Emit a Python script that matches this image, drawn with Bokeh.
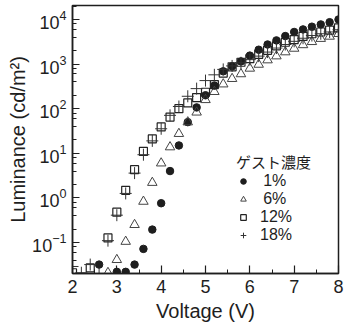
from bokeh.plotting import figure
from bokeh.models import SingleIntervalTicker, LogTicker, Legend
from bokeh.embed import file_html
from bokeh.resources import INLINE

# ---- data ----
v_1 = [2.6, 3.0, 3.2, 3.4, 3.6, 3.8, 4.0, 4.2, 4.4, 4.6, 4.8, 5.0, 5.2, 5.4,
       5.6, 5.8, 6.0, 6.2, 6.4, 6.6, 6.8, 7.0, 7.2, 7.4, 7.6, 7.8, 8.0]
lum_1 = [0.032, 0.022, 0.022, 0.032, 0.072, 0.195, 0.76, 4.0, 15, 50, 107, 200,
         330, 690, 890, 1150, 1550, 2100, 2750, 3400, 4250, 5250, 6000, 6900,
         7750, 8700, 10000]

v_6 = [2.8, 3.0, 3.2, 3.4, 3.6, 3.8, 4.0, 4.2, 4.4, 4.6, 4.8, 5.0, 5.2, 5.4,
       5.6, 5.8, 6.0, 6.2, 6.4, 6.6, 6.8, 7.0, 7.2, 7.4, 7.6, 7.8, 8.0]
lum_6 = [0.021, 0.041, 0.105, 0.25, 0.83, 2.2, 6.0, 13.8, 27.5, 50, 83, 158,
         240, 355, 470, 600, 800, 980, 1230, 1510, 1860, 2240, 2690, 3160,
         3720, 4170, 4790]

v_12 = [2.0, 2.4, 2.8, 3.0, 3.2, 3.4, 3.6, 3.8, 4.0, 4.2, 4.4, 4.6, 4.8, 5.0,
        5.2, 5.4, 5.6, 5.8, 6.0, 6.2, 6.4, 6.6, 6.8, 7.0, 7.2, 7.4, 7.6, 7.8, 8.0]
lum_12 = [0.021, 0.027, 0.127, 0.48, 1.48, 4.3, 11, 21, 39, 65, 100, 135, 178,
          234, 347, 630, 870, 1100, 1320, 1660, 2040, 2570, 3090, 3550, 4170,
          4790, 5250, 5750, 6460]

v_18 = [2.0, 2.2, 2.4, 2.6, 2.8, 3.0, 3.2, 3.4, 3.6, 3.8, 4.0, 4.2, 4.4, 4.6,
        4.8, 5.0, 5.2, 5.4, 5.6, 5.8, 6.0, 6.2, 6.4, 6.6, 6.8, 7.0, 7.2, 7.4,
        7.6, 7.8, 8.0]
lum_18 = [0.029, 0.021, 0.032, 0.020, 0.11, 0.41, 1.26, 3.6, 9.3, 19, 35.5, 71,
          112, 190, 282, 427, 575, 760, 910, 1070, 1260, 1510, 1860, 2290, 2750,
          3240, 3800, 4370, 4790, 5250, 5890]

series_labels = ["\u20091%", "\u20096%", "12%", "18%"]
legend_title = "ゲスト濃度"
x_label = "Voltage (V)"
y_label = "Luminance (cd/m²)"

FONT = "Liberation Sans"
INK = "#1e1e1e"

p = figure(width=350, height=327, output_backend="svg", toolbar_location=None,
           x_range=(2, 8), y_range=(0.0202, 20600), y_axis_type="log",
           min_border_left=72, min_border_right=12, min_border_top=5,
           min_border_bottom=54, background_fill_color="white",
           border_fill_color="white")

p.grid.visible = False
p.outline_line_color = INK
p.outline_line_width = 1.5

p.xaxis.ticker = SingleIntervalTicker(interval=1, num_minor_ticks=2)
p.yaxis.ticker = LogTicker(desired_num_ticks=7)

for ax in (p.xaxis[0], p.yaxis[0]):
    ax.axis_line_color = INK
    ax.axis_line_width = 1.5
    ax.major_tick_line_color = INK
    ax.minor_tick_line_color = INK
    ax.major_tick_line_width = 1.2
    ax.minor_tick_line_width = 1
    ax.major_tick_out = 0
    ax.minor_tick_out = 0
    ax.major_label_text_font = FONT
    ax.major_label_text_font_size = "18px"
    ax.major_label_text_color = INK
    ax.axis_label_text_font = FONT
    ax.axis_label_text_font_size = "20px"
    ax.axis_label_text_font_style = "normal"
    ax.axis_label_text_color = INK

p.xaxis.major_tick_in = 8
p.xaxis.minor_tick_in = 4
p.yaxis.major_tick_in = 7
p.yaxis.minor_tick_in = 4
p.xaxis.major_label_standoff = 6
p.yaxis.major_label_standoff = 6
p.xaxis.axis_label = x_label
p.yaxis.axis_label = y_label
p.xaxis.axis_label_standoff = 4
p.yaxis.axis_label_standoff = 0

r1 = p.scatter(v_1, lum_1, marker="circle", size=7.5, fill_color=INK,
               line_color=INK)
r6 = p.scatter(v_6, lum_6, marker="triangle", size=9.5, fill_color=None,
               line_color="#444444", line_width=1)
r12 = p.scatter(v_12, lum_12, marker="square", size=8, fill_color=None,
                line_color="#222222", line_width=1.2)
r18 = p.scatter(v_18, lum_18, marker="cross", size=12, line_color="#333333",
                line_width=1)

legend = Legend(items=[(series_labels[0], [r1]), (series_labels[1], [r6]),
                       (series_labels[2], [r12]), (series_labels[3], [r18])],
                location=(164, 29), title=legend_title,
                title_text_font="Noto Sans CJK JP", title_text_font_size="15px",
                title_text_font_style="normal", title_text_color=INK,
                title_standoff=-5,
                label_text_font=FONT, label_text_font_size="16px",
                label_text_color=INK, glyph_width=14, glyph_height=14,
                label_height=14, label_standoff=10, spacing=-4, padding=0,
                margin=0, border_line_color=None, background_fill_alpha=0)
p.add_layout(legend, "center")

open("out.html", "w").write(file_html(p, INLINE))
